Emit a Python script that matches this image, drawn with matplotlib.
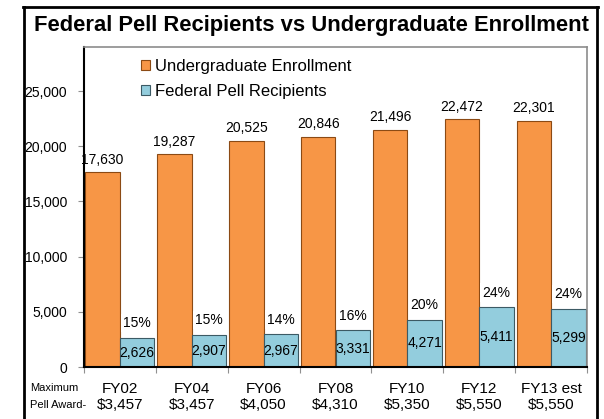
import matplotlib.pyplot as plt
import numpy as np
from matplotlib.lines import Line2D

plt.rcParams['font.family'] = ['Liberation Sans', 'DejaVu Sans']

years = ['FY02', 'FY04', 'FY06', 'FY08', 'FY10', 'FY12', 'FY13 est']
max_award = ['$3,457', '$3,457', '$4,050', '$4,310', '$5,350', '$5,550', '$5,550']
enrollment = [17630, 19287, 20525, 20846, 21496, 22472, 22301]
pell = [2626, 2907, 2967, 3331, 4271, 5411, 5299]

orange = '#F79646'
blue = '#93CDDD'

W, H = 604, 419
fig = plt.figure(figsize=(W / 100, H / 100), dpi=100)

# outer frame (runs off the bottom edge)
for xs, ys in [((24, 24), (7, 430)), ((23, 598), (7, 7)), ((597, 597), (7, 430))]:
    fig.add_artist(Line2D([x / W for x in xs], [1 - y / H for y in ys],
                          color='black', lw=2))

ax = fig.add_axes([84 / W, 1 - 367 / H, (587 - 84) / W, (367 - 47) / H])

x = np.arange(len(years))
bw = 0.48
ax.bar(x - bw / 2, enrollment, bw, color=orange, edgecolor='#8B4A14',
       linewidth=0.8, label='Undergraduate Enrollment', zorder=2)
ax.bar(x + bw / 2, pell, bw, color=blue, edgecolor='#3C5A64',
       linewidth=0.8, label='Federal Pell Recipients', zorder=2)

for xi, v in zip(x, enrollment):
    ax.text(xi - bw / 2, v + 500, f'{v:,}', ha='center', va='bottom', fontsize=10)

for xi, p, e in zip(x, pell, enrollment):
    ax.text(xi + bw / 2, p / 2, f'{p:,}', ha='center', va='center', fontsize=10, zorder=3)
    ax.text(xi + bw / 2, p + 700, f'{round(100 * p / e)}%', ha='center', va='bottom',
            fontsize=10, zorder=4,
            bbox=dict(facecolor='white', edgecolor='none', pad=1.5))

ax.set_xlim(-0.5, len(years) - 0.5)
ax.set_ylim(0, 29000)
ax.set_yticks(range(0, 25001, 5000))
ax.set_yticklabels([f'{t:,}' for t in range(0, 25001, 5000)], fontsize=10)
ax.set_xticks(np.arange(len(years) + 1) - 0.5)
ax.set_xticklabels([])
ax.tick_params(axis='both', color='#909090', length=4, width=0.8)
ax.tick_params(axis='y', pad=8)

for i, (yr, aw) in enumerate(zip(years, max_award)):
    ax.text(i, -1400, f'{yr}\n{aw}', ha='center', va='top', fontsize=11,
            linespacing=1.15)

fig.text(30 / W, 1 - 388 / H, 'Maximum', fontsize=8, va='center', ha='left')
fig.text(30 / W, 1 - 405 / H, 'Pell Award-', fontsize=8, va='center', ha='left')

for s in ['left', 'bottom']:
    ax.spines[s].set_color('black')
    ax.spines[s].set_linewidth(1.5)
for s in ['top', 'right']:
    ax.spines[s].set_color('#8C8C8C')
    ax.spines[s].set_linewidth(1.2)

ax.legend(loc='upper left', bbox_to_anchor=(134 / W, 1 - 52 / H),
          bbox_transform=fig.transFigure, frameon=False, fontsize=12,
          handlelength=0.55, handleheight=0.55, handletextpad=0.3,
          labelspacing=0.6, borderaxespad=0)

fig.text(312 / W, 1 - 26 / H, 'Federal Pell Recipients vs Undergraduate Enrollment',
         ha='center', va='center', fontsize=15.8, fontweight='bold')

fig.savefig('out.png', dpi=100)
